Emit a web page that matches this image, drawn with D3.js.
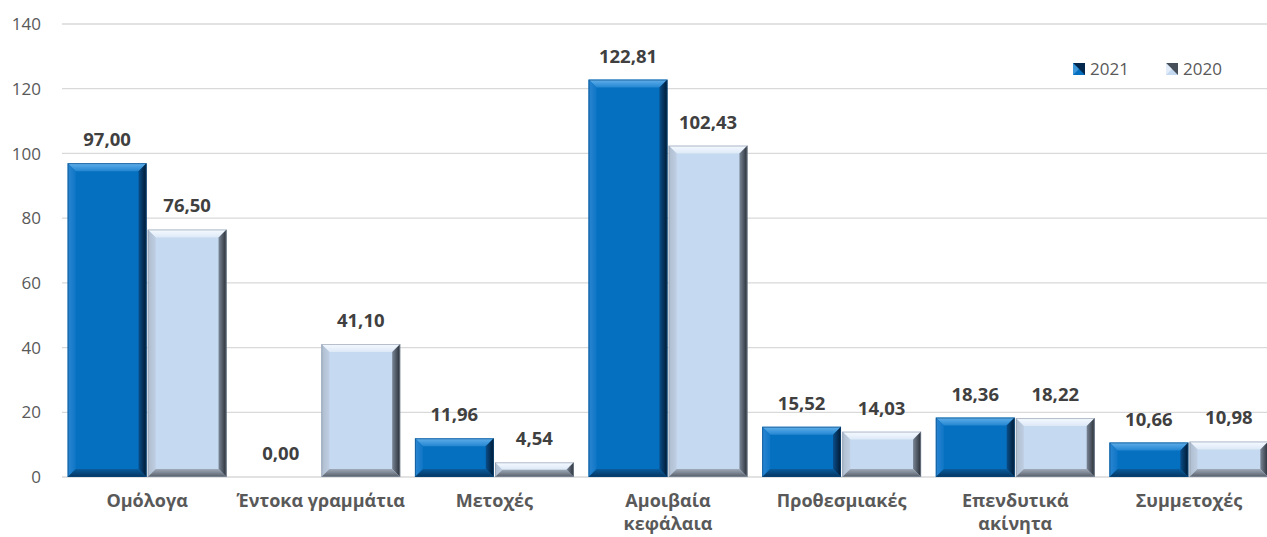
<!DOCTYPE html>
<html>
<head>
<meta charset="utf-8">
<script src="https://cdn.jsdelivr.net/npm/d3@7"></script>
<style>
  body { margin: 0; background: #fff; overflow: hidden; }
  svg { display: block; font-family: "Open Sans", "Noto Sans", sans-serif; }
</style>
</head>
<body>
<div id="chart"></div>
<script>
const categories = [
  ["Ομόλογα"],
  ["Έντοκα γραμμάτια"],
  ["Μετοχές"],
  ["Αμοιβαία", "κεφάλαια"],
  ["Προθεσμιακές"],
  ["Επενδυτικά", "ακίνητα"],
  ["Συμμετοχές"],
];
const series = ["2021", "2020"];
const values2021 = [97.0, 0.0, 11.96, 122.81, 15.52, 18.36, 10.66];
const values2020 = [76.5, 41.1, 4.54, 102.43, 14.03, 18.22, 10.98];
const yTicks = [0, 20, 40, 60, 80, 100, 120, 140];

const W = 1267, H = 537;
const plotTop = 24, plotBottom = 477, plotLeft = 59, plotRight = 1277;
const bevel = 8;

const palette = {
  "2021": { face: "#0570C0", top: ["#62B0EA", "#2486D2"], left: ["#2A86D2", "#1076C6"],
            right: ["#0A4E8A", "#011830"], bottom: ["#0A5C9C", "#053560"] },
  "2020": { face: "#C5D9F1", top: ["#F6FAFF", "#DDE9F7"], left: ["#AEBCCE", "#BFCEE2"],
            right: ["#7A8696", "#262C34"], bottom: ["#A0AAB8", "#555D68"] },
};

const rows = categories.map((c, i) => ({
  label: c,
  values: [
    { key: "2021", v: values2021[i] },
    { key: "2020", v: values2020[i] },
  ],
}));

const svg = d3.select("#chart").append("svg")
  .attr("width", W).attr("height", H);

// gradients for the bevel edges
const defs = svg.append("defs");
series.forEach((s) => {
  const p = palette[s];
  const dirs = { top: [0, 0, 0, 1], bottom: [0, 0, 0, 1], left: [0, 0, 1, 0], right: [0, 0, 1, 0] };
  Object.keys(dirs).forEach((side) => {
    const g = defs.append("linearGradient")
      .attr("id", `g${s}${side}`)
      .attr("x1", dirs[side][0]).attr("y1", dirs[side][1])
      .attr("x2", dirs[side][2]).attr("y2", dirs[side][3]);
    g.append("stop").attr("offset", 0).attr("stop-color", p[side][0]);
    g.append("stop").attr("offset", 1).attr("stop-color", p[side][1]);
  });
});

const x0 = d3.scaleBand()
  .domain(d3.range(categories.length))
  .range([plotLeft, plotRight])
  .paddingInner(0.085)
  .paddingOuter(0.05);

const x1 = d3.scaleBand()
  .domain(series)
  .range([0, x0.bandwidth()])
  .paddingInner(0.015);

const y = d3.scaleLinear().domain([0, 140]).range([plotBottom, plotTop]);

// gridlines
svg.append("g")
  .selectAll("line")
  .data(yTicks)
  .join("line")
  .attr("x1", 62)
  .attr("x2", W)
  .attr("y1", (d) => y(d))
  .attr("y2", (d) => y(d))
  .style("stroke", "#D9D9D9")
  .style("stroke-width", 1.3);

// y axis labels
svg.append("g")
  .selectAll("text")
  .data(yTicks)
  .join("text")
  .attr("x", 41)
  .attr("y", (d) => y(d))
  .attr("dy", "0.36em")
  .style("text-anchor", "end")
  .style("font-size", "17px")
  .style("fill", "#595959")
  .text((d) => d);

const fmt = (v) => d3.format(".2f")(v).replace(".", ",");

const groups = svg.append("g")
  .selectAll("g")
  .data(rows)
  .join("g")
  .attr("transform", (d, i) => `translate(${x0(i)},0)`);

const bars = groups.selectAll("g.bar")
  .data((d) => d.values)
  .join("g")
  .attr("class", "bar");

bars.each(function (d) {
  if (d.v <= 0) return;
  const g = d3.select(this);
  const xa = x1(d.key), xb = xa + x1.bandwidth();
  const ya = y(d.v), yb = y(0);
  const b = Math.min(bevel, (yb - ya) / 2);
  g.append("rect")
    .attr("x", xa).attr("y", ya)
    .attr("width", xb - xa).attr("height", yb - ya)
    .style("fill", palette[d.key].face);
  const poly = (pts, side) => g.append("polygon")
    .attr("points", pts.map((p) => p.join(",")).join(" "))
    .style("fill", `url(#g${d.key}${side})`);
  poly([[xa, ya], [xb, ya], [xb - b, ya + b], [xa + b, ya + b]], "top");
  poly([[xa, ya], [xa + b, ya + b], [xa + b, yb - b], [xa, yb]], "left");
  poly([[xb, ya], [xb, yb], [xb - b, yb - b], [xb - b, ya + b]], "right");
  poly([[xa, yb], [xa + b, yb - b], [xb - b, yb - b], [xb, yb]], "bottom");
  g.append("rect")
    .attr("x", xa + 0.5).attr("y", ya + 0.5)
    .attr("width", xb - xa - 1).attr("height", yb - ya - 1)
    .style("fill", "none")
    .style("stroke", d.key === "2021" ? "#0A4A80" : "#8A96A6")
    .style("stroke-width", 1)
    .style("stroke-opacity", 0.6);
});

// value labels
bars.append("text")
  .attr("x", (d) => x1(d.key) + x1.bandwidth() / 2)
  .attr("y", (d) => y(d.v) - 17)
  .style("text-anchor", "middle")
  .style("font-size", "18.5px")
  .style("font-weight", "bold")
  .style("fill", "#404040")
  .text((d) => fmt(d.v));

// category labels
groups.append("text")
  .attr("x", x0.bandwidth() / 2)
  .attr("y", 507)
  .style("text-anchor", "middle")
  .style("font-size", "18px")
  .style("font-weight", "bold")
  .style("fill", "#595959")
  .selectAll("tspan")
  .data((d) => d.label)
  .join("tspan")
  .attr("x", x0.bandwidth() / 2)
  .attr("dy", (d, i) => (i === 0 ? 0 : 23))
  .text((d) => d);

// legend
const legend = svg.append("g")
  .selectAll("g")
  .data(series)
  .join("g")
  .attr("transform", (d, i) => `translate(${1073 + i * 93},63)`);

legend.append("rect")
  .attr("width", 12).attr("height", 12)
  .style("fill", (d) => palette[d].face);
legend.append("polygon")
  .attr("points", "0,0 12,0 12,12 6,6")
  .style("fill", (d) => palette[d].right[1])
  .style("opacity", 0.8);
legend.append("polygon")
  .attr("points", "0,0 6,6 0,12")
  .style("fill", (d) => palette[d].top[0])
  .style("opacity", 0.6);

legend.append("text")
  .attr("x", 17)
  .attr("y", 6)
  .attr("dy", "0.36em")
  .style("font-size", "17px")
  .style("fill", "#595959")
  .text((d) => d);
</script>
</body>
</html>
